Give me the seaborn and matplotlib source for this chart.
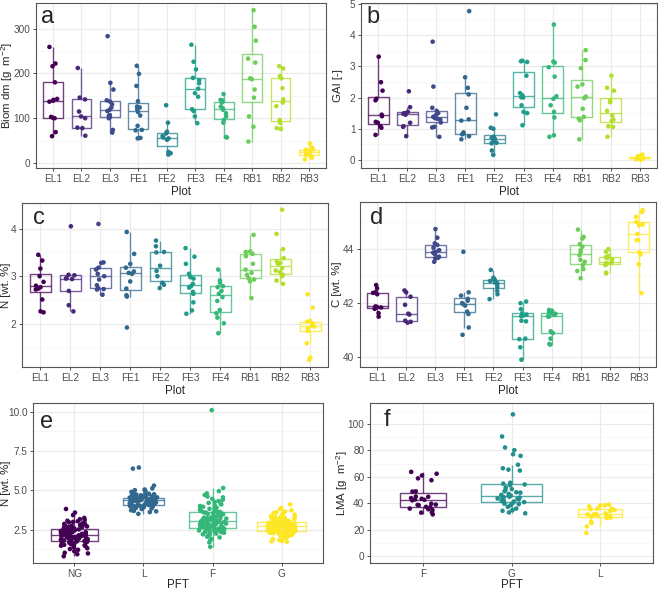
import numpy as np
import pandas as pd
import seaborn as sns
import matplotlib.pyplot as plt
from matplotlib.ticker import MultipleLocator

# ---- data ----
plots = ["EL1", "EL2", "EL3", "FE1", "FE2", "FE3", "FE4", "RB1", "RB2", "RB3"]

biom = {
    "EL1": [259, 222, 216, 180, 143, 141, 139, 137, 103, 101, 100, 69, 60],
    "EL2": [212, 146, 142, 115, 104, 100, 79, 78, 61],
    "EL3": [283, 179, 164, 140, 137, 131, 124, 119, 116, 107, 105, 102, 100, 74, 68],
    "FE1": [217, 199, 172, 138, 126, 124, 120, 114, 106, 83, 74, 73, 56, 55],
    "FE2": [129, 90, 70, 66, 60, 57, 55, 52, 25, 22, 19],
    "FE3": [264, 226, 209, 190, 185, 178, 166, 156, 148, 120, 116, 104, 89],
    "FE4": [154, 141, 140, 138, 135, 126, 122, 119, 111, 104, 96, 90, 58, 57],
    "RB1": [341, 304, 273, 233, 224, 189, 187, 164, 146, 104, 81, 48],
    "RB2": [216, 211, 194, 189, 167, 142, 135, 127, 96, 90, 78, 76],
    "RB3": [44, 35, 32, 30, 28, 27, 25, 22, 20, 18, 15, 12, 8],
}

gai = {
    "EL1": [3.31, 2.49, 2.22, 1.96, 1.91, 1.45, 1.40, 1.22, 1.19, 1.08, 1.03, 0.80],
    "EL2": [2.20, 1.69, 1.54, 1.50, 1.48, 1.45, 1.19, 1.08, 1.06, 0.76],
    "EL3": [3.79, 2.35, 1.67, 1.57, 1.50, 1.43, 1.38, 1.34, 1.32, 1.29, 1.20, 1.06, 1.04, 0.74],
    "FE1": [4.77, 2.65, 2.31, 2.10, 1.67, 1.30, 1.26, 0.88, 0.85, 0.82, 0.76, 0.66],
    "FE2": [1.46, 1.03, 1.00, 0.74, 0.71, 0.68, 0.66, 0.58, 0.55, 0.53, 0.30, 0.16],
    "FE3": [3.18, 3.16, 3.14, 2.70, 2.14, 2.07, 2.01, 2.00, 1.75, 1.54, 1.50, 1.11],
    "FE4": [4.34, 3.15, 3.12, 2.97, 2.67, 2.04, 1.96, 1.75, 1.54, 1.36, 0.79, 0.74],
    "RB1": [3.52, 3.20, 2.94, 2.42, 2.35, 2.03, 1.98, 1.64, 1.38, 1.32, 1.27, 0.66],
    "RB2": [2.70, 2.31, 2.22, 1.91, 1.85, 1.57, 1.42, 1.29, 1.25, 1.08, 1.06, 0.74],
    "RB3": [0.17, 0.13, 0.12, 0.10, 0.09, 0.08, 0.07, 0.06, 0.05, 0.04, 0.02, 0.00],
}

n_plot = {
    "EL1": [3.45, 3.33, 3.16, 3.00, 2.88, 2.80, 2.77, 2.74, 2.72, 2.51, 2.26, 2.24],
    "EL2": [4.05, 3.03, 3.02, 2.96, 2.95, 2.94, 2.69, 2.39, 2.26],
    "EL3": [4.10, 3.29, 3.28, 3.18, 3.14, 3.05, 3.00, 2.93, 2.81, 2.75, 2.73, 2.72, 2.61],
    "FE1": [3.93, 3.47, 3.26, 3.18, 3.10, 3.07, 3.05, 2.89, 2.74, 2.60, 2.57, 1.92],
    "FE2": [3.75, 3.63, 3.51, 3.50, 3.22, 3.11, 3.00, 2.86, 2.82, 2.75],
    "FE3": [3.59, 3.41, 3.26, 3.05, 2.98, 2.95, 2.84, 2.79, 2.76, 2.67, 2.63, 2.45, 2.28, 2.21],
    "FE4": [3.14, 2.91, 2.86, 2.79, 2.77, 2.69, 2.63, 2.56, 2.48, 2.29, 2.22, 2.13, 2.01, 1.80],
    "RB1": [3.87, 3.52, 3.51, 3.47, 3.42, 3.26, 3.14, 3.07, 3.03, 2.96, 2.93, 2.89, 2.54],
    "RB2": [4.40, 3.89, 3.57, 3.38, 3.31, 3.28, 3.26, 3.17, 3.12, 3.09, 3.03, 3.00, 2.91, 2.84],
    "RB3": [2.62, 2.34, 2.06, 2.04, 2.01, 1.98, 1.96, 1.94, 1.90, 1.85, 1.59, 1.29, 1.24],
}

c_plot = {
    "EL1": [42.67, 42.55, 42.40, 42.38, 42.33, 41.88, 41.86, 41.84, 41.79, 41.63, 41.50],
    "EL2": [42.47, 42.40, 42.24, 41.94, 41.61, 41.58, 41.35, 41.31, 41.28],
    "EL3": [44.74, 44.42, 44.21, 44.15, 44.05, 43.96, 43.90, 43.87, 43.80, 43.72, 43.68, 43.65, 43.53],
    "FE1": [43.90, 42.40, 42.28, 42.16, 42.09, 42.00, 41.97, 41.91, 41.69, 41.60, 41.10, 40.83],
    "FE2": [43.23, 42.94, 42.90, 42.86, 42.82, 42.77, 42.74, 42.70, 42.60, 42.45, 42.33, 42.15],
    "FE3": [42.06, 42.00, 41.78, 41.62, 41.58, 41.55, 41.52, 41.35, 41.33, 40.69, 40.67, 40.37, 39.91],
    "FE4": [41.75, 41.72, 41.67, 41.62, 41.61, 41.57, 41.51, 41.50, 40.96, 40.90, 40.69, 40.49, 40.47],
    "RB1": [44.72, 44.45, 44.39, 44.18, 44.09, 43.96, 43.90, 43.77, 43.60, 43.53, 43.42, 43.26, 43.19, 42.92],
    "RB2": [44.00, 43.90, 43.75, 43.70, 43.66, 43.62, 43.52, 43.50, 43.48, 43.45, 43.41, 43.13, 43.10],
    "RB3": [45.44, 45.37, 45.19, 45.00, 44.91, 44.88, 44.56, 44.33, 44.33, 43.88, 43.80, 43.44, 42.37],
}

pft_e = ["NG", "L", "F", "G"]
n_pft = {
    "NG": [0.80, 0.93, 0.98, 1.02, 1.12, 1.21, 1.26, 1.31, 1.36, 1.39, 1.44, 1.47, 1.50,
           1.53, 1.56, 1.57, 1.61, 1.63, 1.66, 1.68, 1.71, 1.72, 1.74, 1.75, 1.77,
           1.78, 1.81, 1.82, 1.84, 1.86, 1.87, 1.89, 1.91, 1.93, 1.94, 1.96, 1.97, 1.99,
           2.00, 2.02, 2.03, 2.05, 2.06, 2.07, 2.09, 2.10, 2.11, 2.12, 2.13, 2.14,
           2.15, 2.17, 2.19, 2.20, 2.21, 2.23, 2.25, 2.26, 2.28, 2.30, 2.31, 2.33, 2.35,
           2.36, 2.38, 2.40, 2.41, 2.43, 2.45, 2.46, 2.48, 2.50, 2.51, 2.53, 2.54,
           2.56, 2.59, 2.61, 2.63, 2.66, 2.67, 2.70, 2.73, 2.76, 2.78, 2.81, 2.84, 2.86,
           2.89, 2.92, 2.96, 2.99, 3.03, 3.06, 3.11, 3.16, 3.24, 3.42, 3.58, 3.81],
    "L": [3.50, 3.61, 3.66, 3.69, 3.73, 3.76, 3.81, 3.84, 3.88, 3.91, 3.93, 3.96, 3.98,
          4.00, 4.02, 4.03, 4.05, 4.06, 4.07, 4.08,
          4.10, 4.12, 4.14, 4.15, 4.17, 4.18, 4.20, 4.22, 4.23, 4.25, 4.26, 4.28, 4.29,
          4.30, 4.31, 4.32, 4.33, 4.34, 4.35, 4.35,
          4.36, 4.37, 4.38, 4.39, 4.40, 4.41, 4.42, 4.43, 4.44, 4.45, 4.46, 4.47, 4.48,
          4.49, 4.50, 4.50, 4.51, 4.52, 4.52, 4.53,
          4.55, 4.57, 4.60, 4.62, 4.65, 4.68, 4.70, 4.72, 4.75, 4.78, 4.81, 4.85, 4.90,
          4.96, 5.01, 5.05, 5.12, 5.30, 6.38, 6.45],
    "F": [1.40, 1.68, 1.82, 1.90, 2.00, 2.05, 2.11, 2.15, 2.20, 2.24, 2.28, 2.30, 2.33,
          2.36, 2.38, 2.40, 2.42, 2.44, 2.46, 2.48, 2.50, 2.52, 2.53, 2.54, 2.56,
          2.58, 2.60, 2.62, 2.64, 2.66, 2.68, 2.70, 2.72, 2.74, 2.76, 2.78, 2.80, 2.82,
          2.84, 2.86, 2.88, 2.90, 2.92, 2.93, 2.95, 2.96, 2.98, 2.99, 3.00, 3.02,
          3.04, 3.06, 3.08, 3.10, 3.12, 3.14, 3.16, 3.18, 3.20, 3.22, 3.24, 3.26, 3.28,
          3.30, 3.33, 3.36, 3.39, 3.42, 3.45, 3.48, 3.50, 3.53, 3.55, 3.58, 3.60,
          3.63, 3.66, 3.70, 3.74, 3.78, 3.82, 3.86, 3.90, 3.95, 4.00, 4.05, 4.10, 4.15,
          4.20, 4.25, 4.32, 4.40, 4.45, 4.55, 4.60, 4.70, 4.80, 4.95, 5.15, 10.1],
    "G": [1.72, 1.75, 1.78, 1.82, 1.85, 1.90, 1.95, 2.00, 2.05, 2.08, 2.12, 2.15, 2.18,
          2.20, 2.22, 2.25, 2.27, 2.29, 2.31, 2.33, 2.35, 2.36, 2.38, 2.39, 2.40, 2.41, 2.42,
          2.43, 2.44, 2.45, 2.46, 2.47, 2.48, 2.49, 2.50, 2.51, 2.52, 2.53, 2.54, 2.55,
          2.56, 2.57, 2.58, 2.59, 2.60, 2.61, 2.62, 2.63, 2.64, 2.65, 2.66, 2.67, 2.68, 2.70,
          2.71, 2.72, 2.73, 2.74, 2.75, 2.76, 2.77, 2.78, 2.79, 2.80, 2.81, 2.82, 2.83,
          2.84, 2.85, 2.86, 2.87, 2.88, 2.89, 2.90, 2.91, 2.92, 2.93, 2.94, 2.95, 2.96, 2.98,
          3.00, 3.02, 3.04, 3.06, 3.08, 3.10, 3.12, 3.14, 3.16, 3.18, 3.20, 3.22, 3.25,
          3.28, 3.30, 3.33, 3.36, 3.40, 3.45, 3.50, 3.55, 3.60, 3.65, 3.72, 3.80, 3.88, 4.10],
}

pft_f = ["F", "G", "L"]
lma = {
    "F": [63.7, 62.3, 61.0, 58.8, 57.4, 49.0, 48.8, 45.1, 44.9, 43.9, 43.4, 42.9, 42.6,
          42.2, 39.7, 39.0, 38.8, 38.5, 37.3, 37.0, 36.0, 35.5, 34.8, 33.1, 32.9, 31.6],
    "G": [107.1, 90.4, 82.1, 80.1, 77.0, 75.8, 69.1, 66.4, 65.4, 64.7, 55.5, 54.8, 54.2,
          53.7, 52.0, 50.7, 50.2, 49.0, 48.3, 48.0, 47.1, 46.3, 45.8, 45.5, 45.0, 44.6,
          44.3, 43.9, 43.6, 43.4, 42.9, 42.2, 41.8, 41.3, 40.9, 40.5, 40.2, 39.7, 39.3,
          38.5, 37.3, 36.0, 34.8, 34.3, 33.1, 32.4],
    "L": [39.0, 38.5, 38.5, 37.7, 36.0, 36.0, 35.5, 34.8, 34.1, 32.4, 31.9, 31.6, 31.6,
          31.1, 30.6, 30.2, 29.9, 29.5, 29.2, 29.0, 26.2, 25.0, 22.5, 17.6],
}

pal10 = ["#440154", "#482878", "#3E4A89", "#31688E", "#26828E",
         "#1F9E89", "#35B779", "#6DCD59", "#B4DE2C", "#FDE725"]
pal4 = ["#440154", "#31688E", "#35B779", "#FDE725"]
pal3 = ["#440154", "#21908C", "#FDE725"]

# ---- style ----
sns.set_theme(style="white")
plt.rcParams["font.family"] = ["Liberation Sans", "DejaVu Sans"]
plt.rcParams["mathtext.fontset"] = "custom"
plt.rcParams["mathtext.rm"] = "Liberation Sans"
plt.rcParams["mathtext.it"] = "Liberation Sans:italic"
np.random.seed(7)

W, H = 658, 592
fig = plt.figure(figsize=(W / 100, H / 100), dpi=100)


def panel(box, ylab_x, data, order, pal, xlabel, ylabel, ylim, ystep, letter, loff,
          jitter=0.15, varwidth=False, yfmt=None, xpad=1.5):
    l, r, t, b = box
    ax = fig.add_axes([l / W, 1 - b / H, (r - l) / W, (b - t) / H])
    df = pd.DataFrame([(k, v) for k in order for v in data[k]], columns=["grp", "val"])
    nmax = max(len(data[k]) for k in order)
    for k, col in zip(order, pal):
        sub = df[df["grp"] == k]
        w = 0.7 * np.sqrt(len(sub) / nmax) if varwidth else 0.7
        sns.boxplot(data=sub, x="grp", y="val", order=order, width=w, fill=False,
                    color=col, linewidth=1.0, showfliers=False, showcaps=False, ax=ax)
    for art in ax.patches + ax.lines:
        art.set_alpha(0.75)
    sns.stripplot(data=df, x="grp", y="val", order=order, hue="grp", hue_order=order,
                  palette=pal, jitter=jitter, size=3.3, linewidth=0, legend=False,
                  zorder=5, ax=ax)

    ax.set_xlim(-0.6, len(order) - 0.4)
    ax.set_ylim(*ylim)
    ax.yaxis.set_major_locator(MultipleLocator(ystep))
    ax.yaxis.set_minor_locator(MultipleLocator(ystep / 2))
    if yfmt:
        ax.yaxis.set_major_formatter(yfmt)
    ax.set_axisbelow(True)
    ax.grid(True, which="major", color="#EBEBEB", lw=0.8)
    ax.grid(True, which="minor", axis="y", color="#F4F4F4", lw=0.5)
    for s in ax.spines.values():
        s.set_color("#555555")
        s.set_linewidth(0.8)
    ax.tick_params(which="major", length=2.5, width=0.6, color="#333333",
                   labelsize=7.2, labelcolor="#4D4D4D", pad=1.5, bottom=True, left=True)
    ax.tick_params(which="minor", length=0)
    ax.set_xlabel(xlabel, fontsize=8.3, labelpad=xpad)
    ax.set_ylabel(ylabel, fontsize=8.2)
    ax.yaxis.label.set_verticalalignment("center")
    ax.yaxis.set_label_coords(-(l - ylab_x) / (r - l), 0.5)
    ax.annotate(letter, xy=(0, 1), xycoords="axes fraction", xytext=loff,
                textcoords="offset pixels", fontsize=17, ha="center", va="center")
    return ax


panel((36, 326, 3, 168), 7, biom, plots, pal10, "Plot", "Biom dm [g  m$^{-2}$]",
      (-11, 357), 100, "a", (12, -14))
panel((361, 657, 3, 168), 338, gai, plots, pal10, "Plot", "GAI [-]",
      (-0.26, 5.03), 1, "b", (12, -14))
panel((22, 328, 203, 367), 6, n_plot, plots, pal10, "Plot", "N [wt. %]",
      (1.09, 4.54), 1, "c", (17, -15))
panel((360, 656, 202, 367), 337, c_plot, plots, pal10, "Plot", "C [wt. %]",
      (39.64, 45.74), 2, "d", (17, -16))
panel((33, 323, 403, 563), 6, n_pft, pft_e, pal4, "PFT", "N [wt. %]",
      (0.37, 10.56), 2.5, "e", (14, -19), jitter=0.2, varwidth=True,
      yfmt=plt.FormatStrFormatter("%.1f"), xpad=0.0)
panel((370, 653, 403, 563), 342, lma, pft_f, pal3, "PFT", "LMA [g  m$^{-2}$]",
      (-5.1, 115.7), 20, "f", (17, -17), jitter=0.17, varwidth=True, xpad=0.0)

fig.savefig("out.png", dpi=100)
